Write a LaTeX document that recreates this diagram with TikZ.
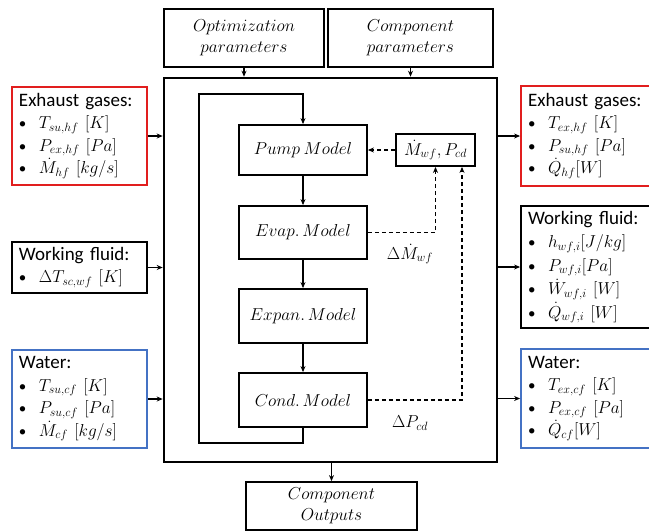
\documentclass[tikz,border=0pt]{standalone}
\usepackage{fontspec}
\setmainfont{Carlito}
\usetikzlibrary{arrows.meta}
\definecolor{bred}{RGB}{225,30,30}
\definecolor{bblue}{RGB}{68,114,196}
\newcommand{\bl}{\makebox[20pt][l]{\fontsize{15}{22.5}\selectfont •}}
\newcommand{\mm}[1]{{\fontsize{17.5}{22.5}\selectfont$#1$}}
\tikzset{
  every node/.style={font=\fontsize{16.5}{22}\selectfont},
  listbox/.style={draw, line width=1.8pt, text width=#1, inner xsep=7pt, inner ysep=2pt, align=left, font=\fontsize{19}{22.5}\selectfont},
  modbox/.style={draw, line width=1.8pt, inner sep=0pt, align=center},
  arr/.style={line width=1.6pt, -{Stealth[length=6pt,width=5pt]}},
  darr/.style={line width=1.7pt, dash pattern=on 4.5pt off 2.5pt, -{Stealth[length=6pt,width=5pt]}},
}
\begin{document}
\begin{tikzpicture}[x=1pt,y=-1pt]
\useasboundingbox (0,0) rectangle (649,531);
\clip (0,0) rectangle (649,531);
\fill[white] (0,0) rectangle (649,531);

% top parameter boxes
\node[modbox, minimum width=160, minimum height=58, font=\fontsize{17}{22}\selectfont] (opt) at (244,38) {$Optimization$\\[-1pt]$parameters$};
\node[modbox, minimum width=165, minimum height=58, font=\fontsize{17}{22}\selectfont] (comp) at (410.5,38) {$Component$\\[-1pt]$parameters$};

% main box
\node[draw, line width=2.6pt, minimum width=333, minimum height=384, inner sep=0pt] (main) at (330.5,270) {};

% left inputs
\node[listbox=121, draw=bred, minimum height=98] (exL) at (79.5,136) {Exhaust gases:\\ \bl\mm{T_{su,hf}\ [K]}\\ \bl\mm{P_{ex,hf}\ [Pa]}\\ \bl\mm{\dot{M}_{hf}\ [kg/s]}};
\node[listbox=121, minimum height=51] (wfL) at (79.5,267.5) {Working fluid:\\ \bl\mm{\Delta T_{sc,wf}\ [K]}};
\node[listbox=121, draw=bblue, minimum height=98] (waL) at (79.5,399) {Water:\\ \bl\mm{T_{su,cf}\ [K]}\\ \bl\mm{P_{su,cf}\ [Pa]}\\ \bl\mm{\dot{M}_{cf}\ [kg/s]}};

% right outputs
\node[listbox=121, draw=bred, minimum height=100] (exR) at (588.5,136) {Exhaust gases:\\ \bl\mm{T_{ex,hf}\ [K]}\\ \bl\mm{P_{su,hf}\ [Pa]}\\ \bl\mm{\dot{Q}_{hf}[W]}};
\node[listbox=121, minimum height=122] (wfR) at (588.5,267) {Working fluid:\\[1pt] \bl\mm{h_{wf,i}[J/kg]}\\[1pt] \bl\mm{P_{wf,i}[Pa]}\\[1pt] \bl\mm{\dot{W}_{wf,i}\ [W]}\\[1pt] \bl\mm{\dot{Q}_{wf,i}\ [W]}};
\node[listbox=121, draw=bblue, minimum height=99] (waR) at (588.5,398.5) {Water:\\ \bl\mm{T_{ex,cf}\ [K]}\\ \bl\mm{P_{ex,cf}\ [Pa]}\\ \bl\mm{\dot{Q}_{cf}[W]}};

% models
\node[modbox, minimum width=128, minimum height=50] (pump) at (303,150) {$Pump\ Model$};
\node[modbox, minimum width=128, minimum height=53] (evap) at (303,232.5) {$Evap.\,Model$};
\node[modbox, minimum width=128, minimum height=54] (expan) at (303,316) {$Expan.\,Model$};
\node[modbox, minimum width=128, minimum height=54] (cond) at (303,400) {$Cond.\,Model$};
\node[modbox, minimum width=79, minimum height=32] (mb) at (435.5,150) {$\dot{M}_{wf}, P_{cd}$};

% outputs box
\node[modbox, minimum width=171, minimum height=48, font=\fontsize{17}{22}\selectfont] (out) at (331.5,506) {$Component$\\[-1pt]$Outputs$};

% labels
\node (lm) at (410,254) {$\Delta\dot{M}_{wf}$};
\node (lp) at (410,423) {$\Delta P_{cd}$};

% coordinates
\coordinate (lb) at (199,443);
\coordinate (lt) at (199,94);

% arrows top / bottom
\draw[arr] (opt.south) -- (opt.south |- main.north);
\draw[arr] (comp.south) -- (comp.south |- main.north);
\draw[arr] (main.south -| out.north) -- (out.north);

% arrows left / right
\draw[arr] (exL.east) -- (exL.east -| main.west);
\draw[arr] (wfL.east) -- (wfL.east -| main.west);
\draw[arr] (waL.east) -- (waL.east -| main.west);
\draw[arr] (main.east |- exR.west) -- (exR.west);
\draw[arr] (main.east |- wfR.west) -- (wfR.west);
\draw[arr] (main.east |- waR.west) -- (waR.west);

% model chain
\draw[arr] (pump.south) -- (evap.north);
\draw[arr] (evap.south) -- (expan.north);
\draw[arr] (expan.south) -- (cond.north);
\draw[arr] (cond.south) |- (lb) -- (lt) -| (pump.north);

% dashed feedback
\draw[darr] (mb.west) -- (pump.east);
\draw[darr] (evap.east) -| (mb.south);
\draw[darr] (cond.east) -| ([xshift=26.5pt]mb.south);
\end{tikzpicture}
\end{document}
